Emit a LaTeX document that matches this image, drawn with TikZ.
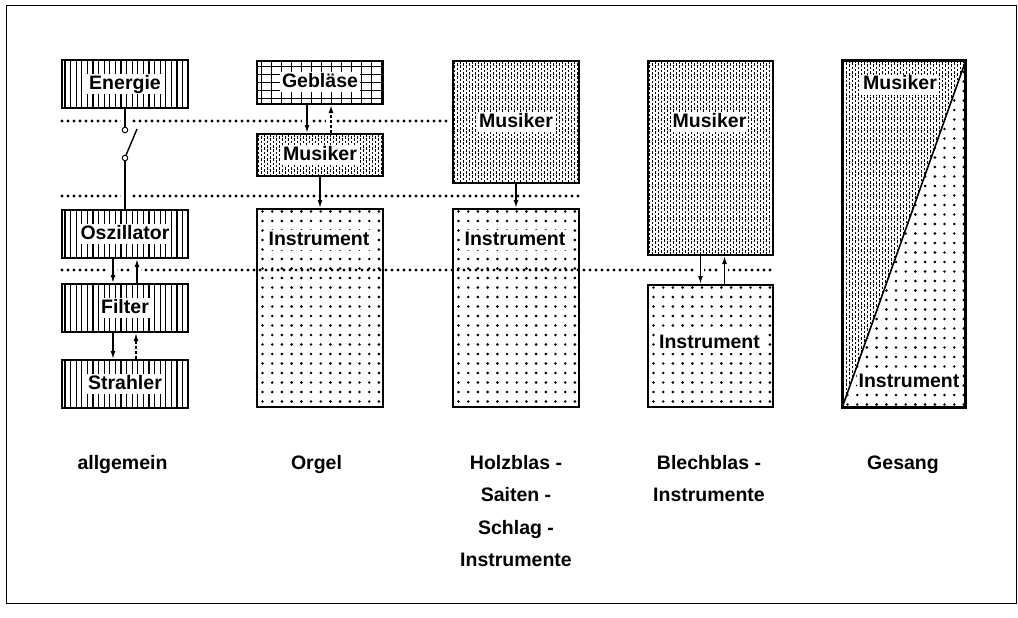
\documentclass[tikz,border=0pt]{standalone}
\usepackage{fontspec}
\setmainfont{Liberation Sans}
\usetikzlibrary{arrows.meta}
\tikzset{
  lbl/.style={font=\fontsize{19.5}{22}\selectfont\bfseries, inner sep=1.5pt},
  boxtext/.style={lbl, fill=white, text height=14pt, text depth=4pt, inner xsep=2pt, inner ysep=1pt},
  caption/.style={lbl, anchor=base},
  box/.style={draw, line width=2pt, inner sep=0pt, anchor=north west},
  hatch/.style={path picture={
    \foreach \i in {0,...,23}{
      \draw[line width=1.2pt]
        ([xshift=\i*5.6pt+3pt]path picture bounding box.north west) --
        ([xshift=\i*5.6pt+3pt]path picture bounding box.south west);}}},
  gridpat/.style={path picture={
    \foreach \i in {0,...,13}{
      \draw[line width=1pt]
        ([xshift=\i*10pt+4pt]path picture bounding box.north west) --
        ([xshift=\i*10pt+4pt]path picture bounding box.south west);}
    \foreach \j in {0,...,6}{
      \draw[line width=1pt]
        ([shift={(0,\j*8+6)}]path picture bounding box.north west) --
        ([shift={(0,\j*8+6)}]path picture bounding box.north east);}}},
  stipple/.style={path picture={
    \foreach \i in {0,2,...,44}{
      \draw[line width=0.7pt, dash pattern=on 2.6pt off 1.8pt]
        ([xshift=\i*3pt+1.5pt]path picture bounding box.north west) --
        ([xshift=\i*3pt+1.5pt]path picture bounding box.south west);}
    \foreach \i in {1,3,...,43}{
      \draw[line width=0.7pt, dash pattern=on 2.6pt off 1.8pt, dash phase=2.2pt]
        ([xshift=\i*3pt+1.5pt]path picture bounding box.north west) --
        ([xshift=\i*3pt+1.5pt]path picture bounding box.south west);}}},
  dots/.style={path picture={
    \foreach \i in {0,...,13}{
      \foreach \j in {0,...,37}{
        \fill ([shift={(\i*9.7+5.5,\j*9.5+2.5)}]path picture bounding box.north west) circle[radius=1.45pt];}}}},
  dotline/.style={line width=3.2pt, line cap=round, dash pattern=on 0pt off 6pt},
  arr/.style={line width=1.5pt, -{Latex[length=8pt,width=5pt]}},
  darr/.style={arr, dash pattern=on 3pt off 2pt},
  sw/.style={circle, draw, line width=1pt, fill=white, inner sep=0pt, minimum size=5.5pt},
  gapmask/.style={fill=white}
}
\begin{document}
\begin{tikzpicture}[x=1pt,y=-1pt]
\useasboundingbox (0,0) rectangle (1018,618);
\draw[line width=0.9pt] (6,5) rectangle (1016,603);

% allgemein
\node[box, hatch, minimum width=126pt, minimum height=48pt] (energie) at (61,59) {};
\node[box, hatch, minimum width=126pt, minimum height=48pt] (osz) at (61,209) {};
\node[box, hatch, minimum width=126pt, minimum height=48pt] (filter) at (61,283) {};
\node[box, hatch, minimum width=126pt, minimum height=48pt] (strahler) at (61,359) {};
\node[boxtext] (tEn) at (energie.center) {Energie};
\node[boxtext] (tOs) at (osz.center) {Oszillator};
\node[boxtext] (tFi) at (filter.center) {Filter};
\node[boxtext] (tSt) at (strahler.center) {Strahler};

% Orgel
\node[box, gridpat, minimum width=126pt, minimum height=43pt] (geb) at (256,60) {};
\node[box, stipple, minimum width=126pt, minimum height=42pt] (musO) at (256,133) {};
\node[box, dots, minimum width=126pt, minimum height=198pt] (instO) at (256,208) {};
\node[boxtext] (tGe) at (geb.center) {Gebläse};
\node[boxtext] (tMO) at (musO.center) {Musiker};
\node[boxtext] (tIO) at (319,240) {Instrument};

% Holzblas
\node[box, stipple, minimum width=126pt, minimum height=122pt] (musH) at (452,60) {};
\node[box, dots, minimum width=126pt, minimum height=198pt] (instH) at (452,208) {};
\node[boxtext] (tMH) at (musH.center) {Musiker};
\node[boxtext] (tIH) at (515,240) {Instrument};

% Blechblas
\node[box, stipple, minimum width=125pt, minimum height=194pt] (musB) at (647,60) {};
\node[box, dots, minimum width=125pt, minimum height=122pt] (instB) at (647,284) {};
\node[boxtext] (tMB) at (709.5,122) {Musiker};
\node[boxtext] (tIB) at (709.5,343) {Instrument};

% Gesang
\node[box, minimum width=122pt, minimum height=346pt] (ges) at (842,60) {};
\path[stipple] (ges.south west) -- (ges.north east) -- (ges.north west) -- cycle;
\path[dots] (ges.south west) -- (ges.south east) -- (ges.north east) -- cycle;
\draw[line width=2pt] (ges.south west) rectangle (ges.north east);
\draw[line width=1.6pt] (ges.south west) -- (ges.north east);
\node[boxtext] (tMG) at (900,85) {Musiker};
\node[boxtext] (tIG) at (909,382) {Instrument};

% dotted level lines
\draw[dotline] (62,121) -- (447,121);
\draw[dotline] (62,196) -- (578,196);
\draw[dotline] (62,270) -- (775,270);
\foreach \x/\y in {125/121, 125/196, 112/270, 136/270, 306/121, 330/121, 699/270, 723/270}
  \fill[gapmask] (\x-4.5,\y-3) rectangle (\x+4.5,\y+3);

% switch
\node[sw] (c1) at (125,130) {};
\node[sw] (c2) at (125,158) {};
\coordinate (blade) at (137,129);
\draw[line width=1.4pt] (c1 |- energie.south) -- (c1.north);
\draw[line width=1.4pt] (c2.70) -- (blade);
\draw[line width=1.4pt] (c2.south) -- (c2 |- osz.north);

% arrows
\draw[arr] ([xshift=-12pt]osz.south) -- ([xshift=-12pt]filter.north);
\draw[arr] ([xshift=12pt]filter.north) -- ([xshift=12pt]osz.south);
\draw[arr] ([xshift=-12pt]filter.south) -- ([xshift=-12pt]strahler.north);
\draw[darr] ([xshift=11pt]strahler.north) -- ([xshift=11pt]filter.south);

\draw[arr] ([xshift=-13pt]geb.south) -- ([xshift=-13pt]musO.north);
\draw[darr] ([xshift=11pt]musO.north) -- ([xshift=11pt]geb.south);
\draw[arr] (musO.south) -- (instO.north);

\draw[arr] (musH.south) -- (instH.north);

\draw[arr] ([xshift=-10pt]musB.south) -- ([xshift=-10pt]instB.north);
\draw[arr] ([xshift=14pt]instB.north) -- ([xshift=14pt]musB.south);

% captions
\node[caption] (lAll) at (122.5,469) {allgemein};
\node[caption] (lOrg) at (316.5,469) {Orgel};
\node[caption] (lH1) at (516,469) {Holzblas -};
\node[caption] (lH2) at (516,501) {Saiten -};
\node[caption] (lH3) at (516,534) {Schlag -};
\node[caption] (lH4) at (516,566) {Instrumente};
\node[caption] (lB1) at (709,469) {Blechblas -};
\node[caption] (lB2) at (709,501) {Instrumente};
\node[caption] (lGes) at (903,469) {Gesang};
\end{tikzpicture}
\end{document}
